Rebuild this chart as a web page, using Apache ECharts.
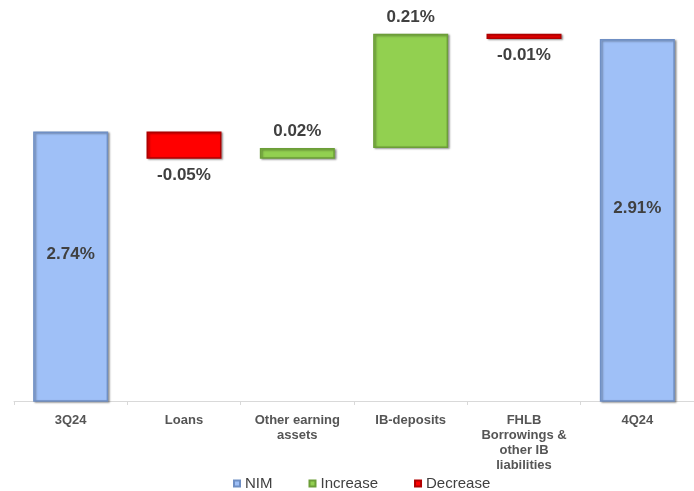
<!DOCTYPE html>
<html>
<head>
<meta charset="utf-8">
<title>NIM bridge 3Q24 to 4Q24</title>
<script src="https://cdn.jsdelivr.net/npm/echarts@6/dist/echarts.min.js"></script>
<style>
  html, body { margin: 0; padding: 0; background: #ffffff; }
  #chart { width: 694px; height: 491px; }
</style>
</head>
<body>
<div id="chart"></div>
<script>
// Categories of the net interest margin bridge
const categories = ['3Q24', 'Loans', 'Other earning\nassets', 'IB-deposits', 'FHLB\nBorrowings &\nother IB\nliabilities', '4Q24'];
// Opening and closing NIM (%)
const nimValues = [2.74, null, null, null, null, 2.91];
// Quarter-over-quarter drivers (%)
const changeValues = [null, -0.05, 0.02, 0.21, -0.01, null];

// Running total gives the floating base for each driver
const baseValues = [];
const increaseValues = [];
const decreaseValues = [];
let running = nimValues[0];
categories.forEach((c, i) => {
  const ch = changeValues[i];
  if (ch === null) {
    baseValues.push('-');
    increaseValues.push('-');
    decreaseValues.push('-');
    return;
  }
  const next = +(running + ch).toFixed(4);
  baseValues.push(Math.min(running, next));
  if (ch >= 0) {
    increaseValues.push(ch);
    decreaseValues.push('-');
  } else {
    increaseValues.push('-');
    decreaseValues.push(-ch);
  }
  running = next;
});

const labelColor = '#404040';
const fontFamily = 'Liberation Sans, Arial, sans-serif';
const valueLabel = (signed) => ({
  show: true,
  fontFamily: fontFamily,
  fontSize: 17,
  fontWeight: 'bold',
  color: labelColor,
  formatter: (p) => (signed ? changeValues[p.dataIndex] : nimValues[p.dataIndex]).toFixed(2) + '%'
});
// Soft bevel look on every bar
const bevel = { shadowColor: 'rgba(0,0,0,0.35)', shadowBlur: 2, shadowOffsetX: 1.5, shadowOffsetY: 1 };

const chart = echarts.init(document.getElementById('chart'));
chart.setOption({
  animation: false,
  backgroundColor: '#ffffff',
  grid: { left: 14, right: 0, top: 1, bottom: 90, containLabel: false },
  legend: {
    top: 471,
    left: 228,
    itemWidth: 6,
    itemHeight: 6,
    itemGap: 36,
    icon: 'rect',
    textStyle: { fontFamily: fontFamily, fontSize: 15, color: labelColor },
    data: ['NIM', 'Increase', 'Decrease']
  },
  xAxis: {
    type: 'category',
    data: categories,
    axisLine: { lineStyle: { color: '#d9d9d9', width: 1 } },
    axisTick: { show: true, length: 4, lineStyle: { color: '#d9d9d9' } },
    axisLabel: {
      interval: 0,
      margin: 12,
      fontFamily: fontFamily,
      fontSize: 13,
      fontWeight: 'bold',
      lineHeight: 15,
      color: '#555555'
    }
  },
  yAxis: {
    type: 'value',
    min: 2.245,
    max: 2.98,
    show: false,
    splitLine: { show: false }
  },
  series: [
    {
      name: 'base',
      type: 'bar',
      stack: 'bridge',
      barWidth: 75,
      itemStyle: { color: 'transparent' },
      emphasis: { disabled: true },
      data: baseValues
    },
    {
      name: 'NIM',
      type: 'bar',
      stack: 'bridge',
      barWidth: 75,
      itemStyle: Object.assign({ color: '#9fc0f7', borderColor: '#6f8fc4', borderWidth: 1.5 }, bevel),
      label: Object.assign(valueLabel(false), { position: 'inside', offset: [0, -12] }),
      data: nimValues.map(v => v === null ? '-' : v)
    },
    {
      name: 'Increase',
      type: 'bar',
      stack: 'bridge',
      barWidth: 75,
      itemStyle: Object.assign({ color: '#92d050', borderColor: '#6c9e38', borderWidth: 1.5 }, bevel),
      label: Object.assign(valueLabel(true), { position: 'top', distance: 8 }),
      data: increaseValues
    },
    {
      name: 'Decrease',
      type: 'bar',
      stack: 'bridge',
      barWidth: 75,
      itemStyle: Object.assign({ color: '#ff0000', borderColor: '#b00000', borderWidth: 1.5 }, bevel),
      label: Object.assign(valueLabel(true), { position: 'bottom', distance: 8 }),
      data: decreaseValues
    }
  ]
});
</script>
</body>
</html>
